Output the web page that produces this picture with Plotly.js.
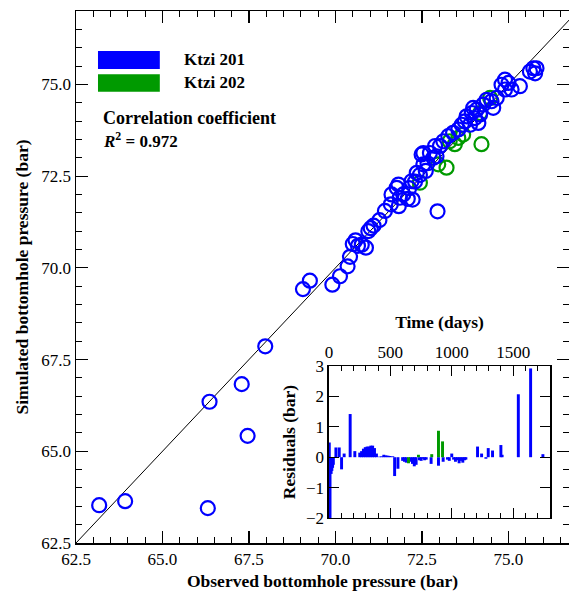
<!DOCTYPE html>
<html>
<head>
<meta charset="utf-8">
<script src="https://cdn.plot.ly/plotly-3.0.1.min.js"></script>
<style>
  html, body { margin: 0; padding: 0; background: #fff; }
  #chart { width: 569px; height: 597px; }
</style>
</head>
<body>
<div id="chart"></div>
<script>
// Well names and colours
const wellNames = ['Ktzi 201', 'Ktzi 202'];
const wellColors = ['#0000ff', '#009a00'];

// Observed vs simulated bottomhole pressure (bar), Ktzi 201
const obs201 = [63.17, 63.92, 66.31, 66.36, 67.29, 67.46, 67.97, 69.06, 69.26, 69.91,
  70.13, 70.35, 70.42, 70.58, 70.76, 70.88, 70.95, 71.02, 71.27, 71.43,
  71.60, 71.83, 71.62, 71.77, 71.82, 71.96, 71.86, 72.09, 72.23, 72.13,
  72.20, 72.35, 72.30, 72.44, 72.54, 72.54, 72.61, 72.49, 72.66, 72.73,
  72.83, 72.88, 72.92, 72.95, 73.02, 73.12, 73.26, 73.40, 73.55, 73.65,
  73.74, 73.89, 73.79, 73.94, 73.98, 74.03, 74.08, 74.13, 74.18, 74.27,
  74.37, 74.51, 74.56, 74.66, 74.80, 74.90, 74.90, 75.00, 75.09, 75.33,
  75.62, 75.72, 75.81, 75.77, 70.50, 70.65, 71.10];
const sim201 = [63.53, 63.64, 63.45, 66.35, 66.83, 65.42, 67.86, 69.42, 69.65, 69.54,
  69.77, 70.04, 70.30, 70.75, 70.63, 70.55, 71.00, 71.08, 71.30, 71.55,
  71.73, 71.68, 72.00, 72.18, 72.27, 72.00, 71.91, 71.88, 71.86, 72.17,
  72.36, 72.59, 72.35, 72.53, 73.13, 72.82, 72.64, 73.09, 72.85, 73.13,
  73.00, 73.32, 73.04, 71.54, 73.32, 73.45, 73.59, 73.68, 73.77, 73.90,
  73.99, 73.90, 74.13, 74.22, 74.36, 74.08, 74.31, 73.95, 74.18, 74.45,
  74.58, 74.54, 74.36, 74.63, 74.99, 75.13, 74.86, 75.04, 74.86, 74.95,
  75.35, 75.44, 75.44, 75.30, 70.65, 70.60, 71.15];

// Observed vs simulated bottomhole pressure (bar), Ktzi 202
const obs202 = [74.22, 73.21, 72.44, 73.45, 73.55, 73.69, 74.47, 74.18, 72.97, 73.30];
const sim202 = [73.37, 72.73, 72.32, 73.37, 73.54, 73.63, 74.63, 74.22, 72.82, 73.45];

// Residuals (bar) against time (days)
const resDays201 = [3, 9, 18, 24, 30, 36, 57, 84, 103, 124, 173, 211,
  251, 266, 281, 296, 311, 326, 341, 356, 371, 387,
  413, 430, 447, 464, 481, 498, 520, 535, 562,
  600, 615, 630, 662, 680, 695, 710, 737, 751, 765, 779, 792, 832, 892, 930,
  965, 980, 1000, 1015, 1030, 1045, 1060, 1075, 1090, 1105, 1115,
  1210, 1243, 1278, 1297, 1332, 1400, 1410, 1542, 1642, 1742];
const resVals201 = [0.48, -2.0, -0.55, -0.45, -0.35, -0.25, 0.32, 0.32, -0.4, 0.12, 1.42, 0.2,
  0.15, 0.2, 0.28, 0.33, 0.35, 0.35, 0.38, 0.38, 0.3, 0.12,
  0.02, 0.03, 0.08, 0.06, 0.05, 0.04, 0.03, -0.62, -0.38,
  -0.12, -0.15, -0.18, -0.15, -0.22, -0.3, -0.25, -0.1, -0.12, -0.05, -0.1, -0.08, -0.22, -0.28, -0.15,
  -0.08, -0.12, 0.12, -0.08, -0.15, -0.1, -0.2, -0.12, -0.18, -0.1, -0.08,
  0.35, 0.12, -0.05, 0.3, 0.22, 0.4, 0.08, 2.07, 2.92, 0.1];
const resDays202 = [648, 729, 837, 892, 925];
const resVals202 = [-0.2, 0.08, 0.1, 0.87, 0.52];

// Axis settings
const pressRangeX = [62.5, 76.75];
const pressRangeY = [62.5, 77.0];
const timeRange = [0, 1800];
const resRange = [-2, 3];
const R2 = 0.972;

const FONT = 'Liberation Serif, Times New Roman, serif';

const circle = (color) => ({
  symbol: 'circle-open', size: 14, color: color, line: {width: 2.2, color: color}
});

const traces = [
  // 1:1 reference line across the axis range
  {
    x: pressRangeY, y: pressRangeY, mode: 'lines', type: 'scatter',
    line: {color: '#000', width: 1}, hoverinfo: 'skip', showlegend: false
  },
  {
    x: obs202, y: sim202, mode: 'markers', type: 'scatter', name: wellNames[1],
    marker: circle(wellColors[1]), showlegend: false
  },
  {
    x: obs201, y: sim201, mode: 'markers', type: 'scatter', name: wellNames[0],
    marker: circle(wellColors[0]), showlegend: false
  },
  {
    x: resDays201, y: resVals201, type: 'bar', width: 24, name: wellNames[0],
    marker: {color: wellColors[0], line: {width: 0}}, xaxis: 'x2', yaxis: 'y2', showlegend: false
  },
  {
    x: resDays202, y: resVals202, type: 'bar', width: 24, name: wellNames[1],
    marker: {color: wellColors[1], line: {width: 0}}, xaxis: 'x2', yaxis: 'y2', showlegend: false
  }
];

const tickFont = {family: FONT, size: 17, color: '#000'};
const titleFont = {family: FONT, size: 17.5, color: '#000', weight: 700};
const noteFont = {family: FONT, size: 17, color: '#000'};

const layout = {
  width: 569, height: 597,
  margin: {l: 76, r: 0, t: 11, b: 54},
  paper_bgcolor: '#fff', plot_bgcolor: '#fff',
  showlegend: false,
  barmode: 'overlay',
  xaxis: {
    range: pressRangeX, tick0: 62.5, dtick: 2.5, tickformat: '.1f',
    showline: true, linecolor: '#000', linewidth: 1.5, mirror: 'allticks',
    ticks: 'inside', ticklen: 12, tickwidth: 1.2, tickcolor: '#000',
    minor: {ticks: 'inside', ticklen: 6, dtick: 0.5, tickwidth: 1, tickcolor: '#000', showgrid: false},
    showgrid: false, zeroline: false, tickfont: tickFont,
    title: {text: 'Observed bottomhole pressure (bar)', font: titleFont, standoff: 7},
    automargin: false
  },
  yaxis: {
    range: pressRangeY, tick0: 62.5, dtick: 2.5, tickformat: '.1f',
    showline: true, linecolor: '#000', linewidth: 1.5, mirror: 'allticks',
    ticks: 'inside', ticklen: 12, tickwidth: 1.2, tickcolor: '#000',
    minor: {ticks: 'inside', ticklen: 6, dtick: 0.5, tickwidth: 1, tickcolor: '#000', showgrid: false},
    showgrid: false, zeroline: false, tickfont: tickFont,
    title: {text: 'Simulated bottomhole pressure (bar)', font: titleFont, standoff: 8},
    automargin: false
  },
  xaxis2: {
    domain: [0.513, 0.9615], anchor: 'y2', side: 'top',
    range: timeRange, dtick: 500, tick0: 0,
    showline: true, linecolor: '#000', linewidth: 1.5, mirror: 'allticks',
    ticks: 'inside', ticklen: 10, tickwidth: 1.2, tickcolor: '#000',
    minor: {ticks: 'inside', ticklen: 5, dtick: 100, tickwidth: 1, tickcolor: '#000', showgrid: false},
    showgrid: false, zeroline: false, tickfont: tickFont,
    title: {text: 'Time (days)', font: titleFont, standoff: 9},
    automargin: false
  },
  yaxis2: {
    domain: [0.047, 0.3327], anchor: 'x2',
    range: resRange, dtick: 1,
    showline: true, linecolor: '#000', linewidth: 1.5, mirror: 'allticks',
    ticks: 'inside', ticklen: 10, tickwidth: 1.2, tickcolor: '#000',
    showgrid: false, zeroline: false, tickfont: tickFont,
    title: {text: 'Residuals (bar)', font: titleFont, standoff: 6},
    automargin: false
  },
  shapes: [
    {type: 'rect', xref: 'paper', yref: 'paper', x0: 0.0446, x1: 0.170, y0: 0.891, y1: 0.925,
     fillcolor: wellColors[0], line: {width: 0}},
    {type: 'rect', xref: 'paper', yref: 'paper', x0: 0.0446, x1: 0.170, y0: 0.848, y1: 0.881,
     fillcolor: wellColors[1], line: {width: 0}}
  ],
  annotations: [
    {xref: 'paper', yref: 'paper', x: 0.215, y: 0.908, xanchor: 'left', yanchor: 'middle',
     text: '<b>' + wellNames[0] + '</b>', showarrow: false, font: noteFont},
    {xref: 'paper', yref: 'paper', x: 0.215, y: 0.865, xanchor: 'left', yanchor: 'middle',
     text: '<b>' + wellNames[1] + '</b>', showarrow: false, font: noteFont},
    {xref: 'paper', yref: 'paper', x: 0.051, y: 0.799, xanchor: 'left', yanchor: 'middle',
     text: '<b>Correlation coefficient</b>', showarrow: false,
     font: {family: FONT, size: 18, color: '#000'}},
    {xref: 'paper', yref: 'paper', x: 0.051, y: 0.757, xanchor: 'left', yanchor: 'middle',
     text: '<b><i>R</i><sup>2</sup> = ' + R2.toFixed(3) + '</b>', showarrow: false, font: noteFont}
  ]
};

Plotly.newPlot('chart', traces, layout, {displayModeBar: false, staticPlot: true});
</script>
</body>
</html>
